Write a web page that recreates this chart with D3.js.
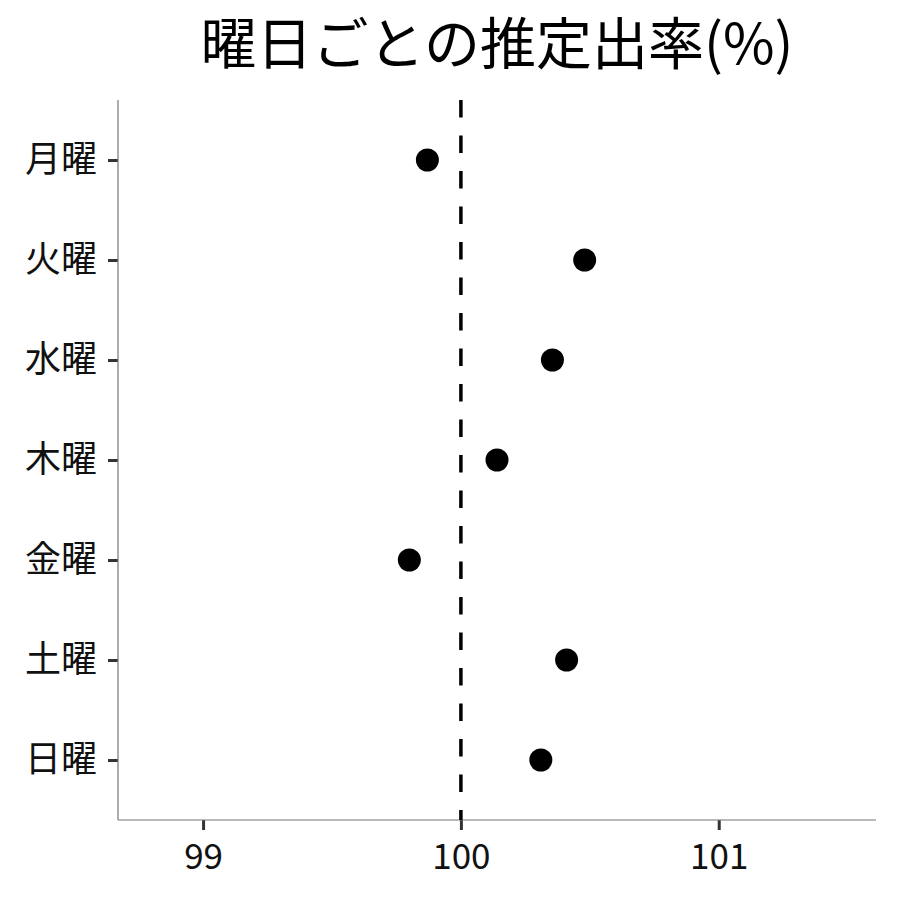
<!DOCTYPE html>
<html>
<head>
<meta charset="utf-8">
<script src="https://cdn.jsdelivr.net/npm/d3@7"></script>
<style>
body { margin: 0; background: #fff; }
text { font-family: "Noto Sans CJK JP", "Noto Sans", sans-serif; }
</style>
</head>
<body>
<script>
var days = ["月曜", "火曜", "水曜", "木曜", "金曜", "土曜", "日曜"];
var rates = [99.87, 100.48, 100.355, 100.14, 99.80, 100.41, 100.31];
var xTicks = [99, 100, 101];
var refValue = 100;

var svg = d3.select("body").append("svg")
    .attr("width", 900)
    .attr("height", 900);

var plotLeft = 118, plotRight = 876, plotTop = 100, plotBottom = 820;

var x = d3.scaleLinear().domain([98.67, 101.61]).range([plotLeft, plotRight]);
var y = d3.scalePoint().domain(days).range([160, 760]);

// title
svg.append("text")
    .attr("x", 497)
    .attr("y", 64)
    .attr("text-anchor", "middle")
    .style("font-size", "56px")
    .attr("fill", "#000")
    .text("曜日ごとの推定出率(%)");

// axes
var xAxis = svg.append("g")
    .attr("transform", "translate(0," + plotBottom + ")")
    .call(d3.axisBottom(x).tickValues(xTicks).tickSize(10).tickPadding(6).tickFormat(d3.format("d")));
xAxis.select(".domain").remove();
xAxis.selectAll(".tick line").attr("stroke", "#333").attr("stroke-width", 3);
xAxis.selectAll(".tick text").style("font-size", "35px").attr("fill", "#111").attr("dy", "0.95em");

var yAxis = svg.append("g")
    .attr("transform", "translate(" + plotLeft + ",0)")
    .call(d3.axisLeft(y).tickSize(10).tickPadding(11));
yAxis.select(".domain").remove();
yAxis.selectAll(".tick line").attr("stroke", "#333").attr("stroke-width", 3);
yAxis.selectAll(".tick text").style("font-size", "36px").attr("fill", "#111");

svg.append("line")
    .attr("x1", plotLeft).attr("x2", plotRight)
    .attr("y1", plotBottom).attr("y2", plotBottom)
    .attr("stroke", "#777").attr("stroke-width", 1.2);
svg.append("line")
    .attr("x1", plotLeft).attr("x2", plotLeft)
    .attr("y1", plotTop).attr("y2", plotBottom)
    .attr("stroke", "#777").attr("stroke-width", 1.2);

// reference line
svg.append("line")
    .attr("x1", x(refValue)).attr("x2", x(refValue))
    .attr("y1", plotTop).attr("y2", plotBottom)
    .attr("stroke", "#000")
    .attr("stroke-width", 3.5)
    .attr("stroke-dasharray", "17.5,18");

// points
svg.selectAll(".pt")
    .data(days)
    .enter().append("circle")
    .attr("class", "pt")
    .attr("cx", function(d, i) { return x(rates[i]); })
    .attr("cy", function(d) { return y(d); })
    .attr("r", 11.5)
    .attr("fill", "#000");
</script>
</body>
</html>
